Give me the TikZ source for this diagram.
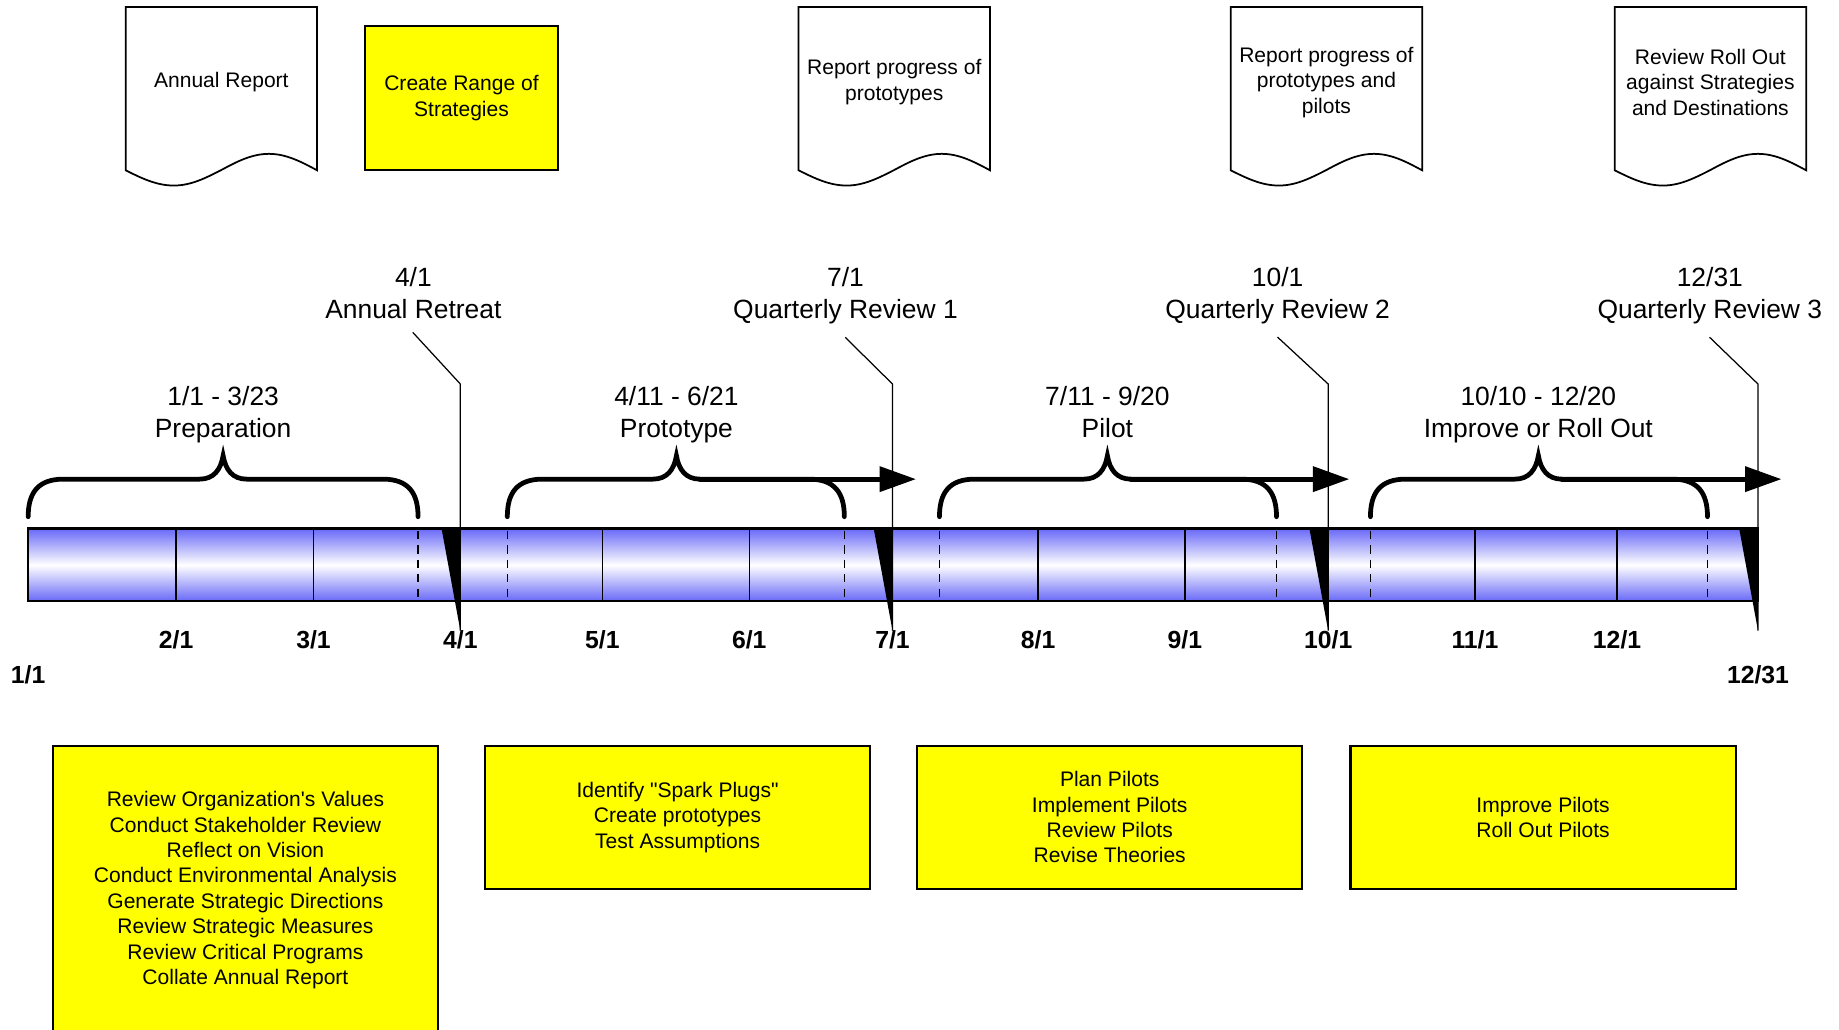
\documentclass[tikz,border=0pt]{standalone}
\usepackage{fontspec}
\setmainfont{Liberation Sans}
\usetikzlibrary{arrows.meta, positioning, calc}
\definecolor{barblue}{RGB}{104, 104, 248}
\definecolor{noteyellow}{RGB}{255, 255, 0}

\begin{document}
\begin{tikzpicture}[x=0.02cm, y=-0.02cm,
  note/.style={draw, line width=1.1pt, fill=noteyellow, align=center, inner sep=0pt,
               font=\fontsize{10.2}{12.3}\selectfont},
  doctext/.style={align=center, font=\fontsize{10.2}{12.3}\selectfont},
  milestone/.style={align=center, anchor=north, font=\fontsize{12.8}{15.6}\selectfont},
  phase/.style={align=center, anchor=north, font=\fontsize{12.8}{15.6}\selectfont},
  datelbl/.style={font=\fontsize{12}{14}\selectfont\bfseries},
  brace/.style={line width=2.3pt, line cap=round},
  leader/.style={line width=0.6pt},
]
\useasboundingbox (0,0) rectangle (1566,877);

% Report documents on top
\foreach \l in {107, 680, 1048, 1375}
  \draw[line width=0.85pt, fill=white] (\l,6) -- (\l+163,6) -- (\l+163,145)
    sin (\l+122,131) cos (\l+81,145) sin (\l+41,158) cos (\l,145) -- cycle;
\node[doctext] (annual) at (188.5,70) {Annual Report};
\node[doctext] (protorep) at (761.5,70) {Report progress of\\prototypes};
\node[doctext] (pilotrep) at (1129.5,70) {Report progress of\\prototypes and\\pilots};
\node[doctext] (rollrep) at (1456.5,70) {Review Roll Out\\against Strategies\\and Destinations};

\node[note, minimum width=3.28cm, minimum height=2.46cm] (strat) at (393,83.5)
     {Create Range of\\Strategies};

% Milestone labels
\node[milestone] (retreat) at (352,221.5) {4/1\\Annual Retreat};
\node[milestone] (qr1) at (720,221.5) {7/1\\Quarterly Review 1};
\node[milestone] (qr2) at (1088,221.5) {10/1\\Quarterly Review 2};
\node[milestone] (qr3) at (1456,221.5) {12/31\\Quarterly Review 3};

% Phase labels and braces
\node[phase] (prep) at (190,323) {1/1 - 3/23\\Preparation};
\node[phase] (proto) at (576,323) {4/11 - 6/21\\Prototype};
\node[phase] (pilot) at (943,323) {7/11 - 9/20\\Pilot};
\node[phase] (roll) at (1310,323) {10/10 - 12/20\\Improve or Roll Out};

\foreach \a/\c/\b in {24/190/356, 432/576/719, 800/943/1087, 1167/1310/1454}
  \draw[brace] (\a,440) .. controls (\a,420) and (\a+8,408) .. (\a+30,408) -- (\c-20,408)
    .. controls (\c-8,408) and (\c-2,400) .. (\c,388)
    .. controls (\c+2,400) and (\c+8,408) .. (\c+20,408) -- (\b-30,408)
    .. controls (\b-8,408) and (\b,420) .. (\b,440);
\foreach \c/\t in {576/780, 943/1149, 1310/1517}
  \draw[brace, -{Triangle[length=0.62cm, width=0.42cm]}] (\c+20,408) -- (\t,408);

% Time bar
\shade[top color=barblue, bottom color=barblue, middle color=white] (24,450) rectangle (1497,512);
\foreach \x in {150, 267, 513, 638, 884, 1009, 1256, 1377}
  \draw[line width=0.7pt] (\x,450) -- (\x,512);
\foreach \x in {356, 432, 719, 800, 1087, 1167, 1454}
  \draw[line width=0.7pt, dash pattern=on 4pt off 3pt] (\x,452) -- (\x,510);
\draw[line width=1.1pt] (24,450) rectangle (1497,512);

% Milestone markers
\foreach \lbl/\x in {retreat/392, qr1/760, qr2/1131, qr3/1497} {
  \fill (\x-16,450) -- (\x,450) -- (\x,537) -- cycle;
  \draw[leader, shorten <=4pt] ([xshift=-3pt]\lbl.south) -- (\x,327) -- (\x,537);
}

% Dates
\foreach \d/\x in {2/150, 3/267, 4/392, 5/513, 6/638, 7/760, 8/884, 9/1009, 10/1131, 11/1256, 12/1377}
  \node[datelbl] (d\d) at (\x,545) {\d/1};
\node[datelbl] (d1) at (24,575) {1/1};
\node[datelbl] (dend) at (1497,575) {12/31};

% Task boxes
\begin{scope}
\clip (0,0) rectangle (1566,877);
\node[note, minimum width=6.56cm, minimum height=5.4cm] (preptasks) at (209,770) {};
\end{scope}
\node[doctext] (preplist) at (209,758) {Review Organization\textquotesingle s Values\\Conduct Stakeholder Review\\Reflect on Vision\\Conduct Environmental Analysis\\Generate Strategic Directions\\Review Strategic Measures\\Review Critical Programs\\Collate Annual Report};
\node[note, minimum width=6.56cm, minimum height=2.44cm] (prototasks) at (577,696)
     {Identify \textquotedbl Spark Plugs\textquotedbl\\Create prototypes\\Test Assumptions};
\node[note, minimum width=6.56cm, minimum height=2.44cm] (pilottasks) at (945,696)
     {Plan Pilots\\Implement Pilots\\Review Pilots\\Revise Theories};
\node[note, minimum width=6.56cm, minimum height=2.44cm] (rolltasks) at (1314,696)
     {Improve Pilots\\Roll Out Pilots};
\end{tikzpicture}
\end{document}
